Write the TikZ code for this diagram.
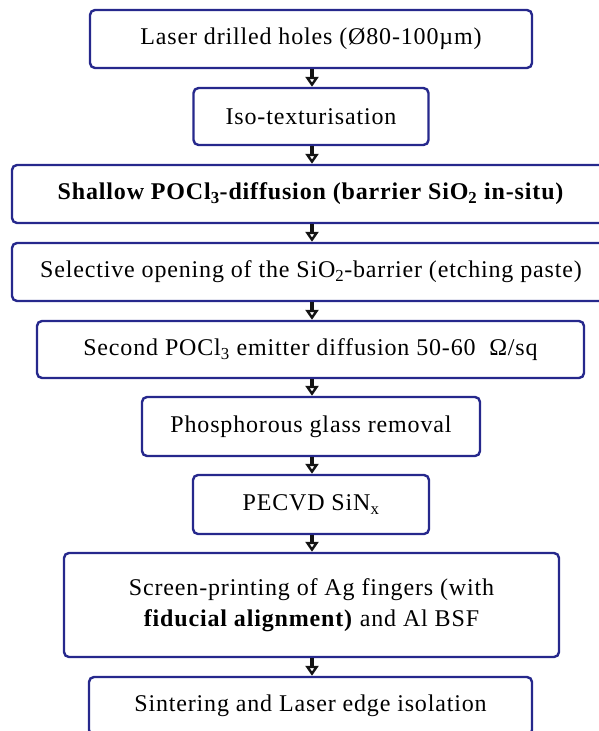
\documentclass[tikz,border=0pt]{standalone}
\usepackage{fontspec}
\setmainfont{Liberation Serif}[LetterSpace=3.5]
\usetikzlibrary{arrows.meta}
\definecolor{boxblue}{RGB}{38,40,140}
\definecolor{arrowblack}{RGB}{20,20,20}
\tikzset{
  proc/.style={draw=boxblue, line width=2.4pt, rounded corners=5pt, fill=white,
    align=center, inner sep=0pt,
    font=\fontsize{24}{31}\selectfont},
  flow/.style={draw=arrowblack, line width=3.2pt,
    -{Triangle[open, length=10pt, width=13pt, line width=2.4pt]}}
}
\begin{document}
\begin{tikzpicture}[x=1pt, y=-1pt]
\useasboundingbox (0,0) rectangle (599,731);
\clip (0,0) rectangle (599,731);
\node[proc, minimum width=442pt, minimum height=58pt] (b1) at (311,39) {Laser drilled holes (Ø80-100µm)};
\node[proc, minimum width=235pt, minimum height=57pt] (b2) at (311,116.5) {Iso-texturisation};
\node[proc, minimum width=598pt, minimum height=58pt] (b3) at (311,194) {\textbf{Shallow POCl\textsubscript{3}-diffusion (barrier SiO\textsubscript{2} in-situ)}};
\node[proc, minimum width=598pt, minimum height=58pt] (b4) at (311,272) {Selective opening of the SiO\textsubscript{2}-barrier (etching paste)};
\node[proc, minimum width=547pt, minimum height=57pt] (b5) at (310.5,349.5) {Second POCl\textsubscript{3} emitter diffusion 50-60\ \ Ω/sq};
\node[proc, minimum width=338pt, minimum height=59pt] (b6) at (311,426.5) {Phosphorous glass removal};
\node[proc, minimum width=236pt, minimum height=59pt] (b7) at (311,504.5) {PECVD SiN\textsubscript{x}};
\node[proc, minimum width=495pt, minimum height=104pt] (b8) at (311.5,605) {Screen-printing of Ag fingers (with\\\textbf{fiducial alignment)} and Al BSF};
\node[proc, minimum width=443pt, minimum height=58pt] (b9) at (310.5,706) {Sintering and Laser edge isolation};
\foreach \a/\b in {b1/b2,b2/b3,b3/b4,b4/b5,b5/b6,b6/b7,b7/b8,b8/b9}
  \draw[flow] (\a.south -| 312,0) -- (\b.north -| 312,0);
\end{tikzpicture}
\end{document}
